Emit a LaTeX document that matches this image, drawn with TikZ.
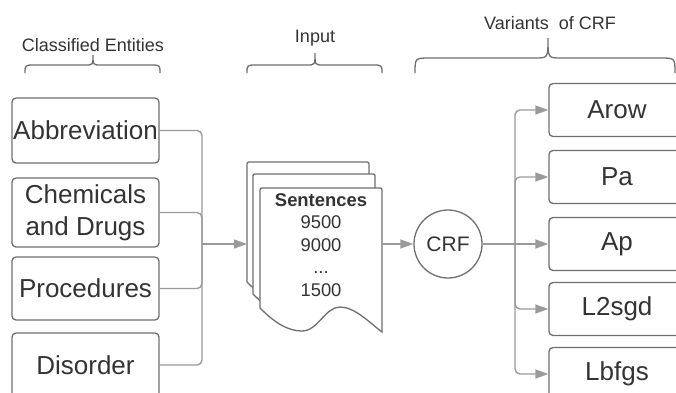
\documentclass[tikz,border=0pt]{standalone}
\usepackage{fontspec}
\setmainfont{Liberation Sans}
\usetikzlibrary{arrows.meta}
\definecolor{ink}{HTML}{333333}
\definecolor{edge}{HTML}{6E6E6E}
\definecolor{wire}{HTML}{9A9A9A}
\tikzset{
  entity/.style={draw=edge, line width=1.3pt, rounded corners=4pt, minimum width=147pt,
    text=ink, font=\fontsize{26}{32}\selectfont, align=center, inner sep=0pt},
  variant/.style={entity, minimum width=136pt, minimum height=53pt},
  wire/.style={draw=wire, line width=1.4pt, rounded corners=5pt},
  feed/.style={wire, -{Triangle[length=13pt,width=9pt]}},
  brace/.style={draw=edge, line width=1.3pt},
  heading/.style={text=ink, font=\fontsize{18}{20}\selectfont},
  docpage/.style={draw=edge, line width=1.3pt, fill=white},
}
\begin{document}
\begin{tikzpicture}[x=1pt, y=-1pt]
\useasboundingbox (0,0) rectangle (676,392);
\clip (0,0) rectangle (676,392);

% headings with braces
\draw[brace] (25,73) .. controls (25,65) .. (35,65) -- (85,65) .. controls (93,65) .. (93,55)
  .. controls (93,65) .. (101,65) -- (150,65) .. controls (160,65) .. (160,73);
\node[heading] (hclass) at (93,45) {Classified Entities};

\draw[brace] (247,73) .. controls (247,65) .. (257,65) -- (307,65) .. controls (315,65) .. (315,53)
  .. controls (315,65) .. (323,65) -- (372,65) .. controls (382,65) .. (382,73);
\node[heading] (hinput) at (315,38) {Input};

\draw[brace] (415,73) .. controls (415,58) .. (430,58) -- (535,58) .. controls (548,58) .. (548,38)
  .. controls (548,58) .. (561,58) -- (660,58) .. controls (675,58) .. (675,73);
\node[heading] (hvar) at (550,23) {Variants\ \ of CRF};

% classified entities
\node[entity, minimum height=65pt] (abbr) at (85.5,130.5) {Abbreviation};
\node[entity, minimum height=69pt] (chem) at (85.5,212.5) {Chemicals\\and Drugs};
\node[entity, minimum height=63pt] (proc) at (85.5,288.5) {Procedures};
\node[entity, minimum height=64pt] (dis)  at (85.5,365)   {Disorder};

% stacked sentence documents
\foreach \dx/\dy in {247/162, 253/174, 260/188} {
  \path[docpage, shift={(\dx,\dy)}]
    (0,120) -- (0,4) .. controls (0,0) .. (4,0) -- (118,0) .. controls (122,0) .. (122,4)
    -- (122,144) .. controls (110,135) and (95,119) .. (80,119)
    .. controls (65,119) and (58,143) .. (42,143)
    .. controls (28,143) and (15,135) .. (0,120) -- cycle;
}
\node[text=ink, align=center, font=\fontsize{18.4}{22.5}\selectfont] (sent) at (321,245)
  {\textbf{Sentences}\\9500\\9000\\...\\1500};

\coordinate (merge) at (202,244);
\coordinate (docin) at (247,244);
\coordinate (docout) at (382,244);
\coordinate (split) at (515,244);

% model
\node[circle, draw=edge, line width=1.3pt, minimum size=68pt, inner sep=0pt, text=ink,
  font=\fontsize{21}{24}\selectfont] (crf) at (448,244) {CRF};

% variants
\node[variant] (arow)  at (617,110) {Arow};
\node[variant] (pa)    at (617,177) {Pa};
\node[variant] (ap)    at (617,244) {Ap};
\node[variant] (l2sgd) at (617,309) {L2sgd};
\node[variant] (lbfgs) at (617,374) {Lbfgs};

% connectors
\draw[wire] (abbr.east) -| (merge);
\draw[wire] (chem.east) -| (merge);
\draw[wire] (proc.east) -| (merge);
\draw[wire] (dis.east)  -| (merge);
\draw[feed] (merge) -- (docin);
\draw[feed] (docout) -- (crf.west);
\draw[wire] (crf.east) -- (split);
\draw[feed] (split) |- (arow.west);
\draw[feed] (split) |- (pa.west);
\draw[feed] (split) -- (ap.west);
\draw[feed] (split) |- (l2sgd.west);
\draw[feed] (split) |- (lbfgs.west);
\end{tikzpicture}
\end{document}
